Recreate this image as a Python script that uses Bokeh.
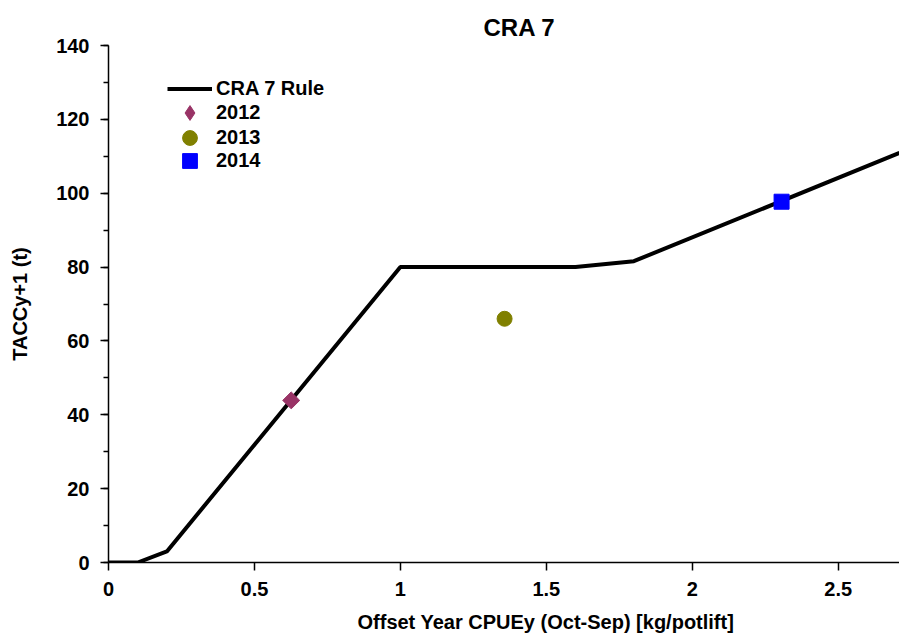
import numpy as np
from bokeh.plotting import figure
from bokeh.models import Range1d, Title, Legend, LegendItem, FixedTicker
from bokeh.embed import file_html
from bokeh.resources import INLINE

# Data
rule_x = [0.0, 0.1, 0.2, 1.0, 1.6, 1.8, 2.71]
rule_y = [0.0, 0.0, 3.0, 80.0, 80.0, 81.6, 110.9]
pt2012_x = [0.626]
pt2012_y = [43.9]
pt2013_x = [1.357]
pt2013_y = [66.0]
pt2014_x = [2.306]
pt2014_y = [97.7]
x_ticks = [0, 0.5, 1, 1.5, 2, 2.5]
y_ticks = [0, 20, 40, 60, 80, 100, 120, 140]
legend_labels = ["CRA 7 Rule", "2012", "2013", "2014"]
x_title = "Offset Year CPUEy (Oct-Sep) [kg/potlift]"
y_title = "TACCy+1 (t)"

FONT = "Liberation Sans"

p = figure(width=899, height=643, output_backend="svg", toolbar_location=None,
           x_range=Range1d(0, 2.71), y_range=Range1d(0, 140),
           min_border_left=108, min_border_right=0, min_border_top=45, min_border_bottom=78)
p.outline_line_color = None
p.grid.grid_line_color = None
p.background_fill_color = "white"
p.border_fill_color = "white"

p.title = Title(text="CRA 7", align="left", offset=375, text_font=FONT,
                text_font_size="24px", text_font_style="bold", text_color="black")

r_line = p.line(rule_x, rule_y, line_color="black", line_width=4)
r12 = p.scatter(pt2012_x, pt2012_y, marker="square", angle=np.pi / 4, size=12,
                fill_color="#993366", line_color="#993366")
r13 = p.scatter(pt2013_x, pt2013_y, marker="circle", size=15,
                fill_color="#808000", line_color="#808000")
r14 = p.scatter(pt2014_x, pt2014_y, marker="square", size=15,
                fill_color="#0000FF", line_color="#0000FF")
# legend-only swatch for 2012 (legend ignores marker angle); NaN point is not drawn
r12_leg = p.scatter([np.nan], [np.nan], marker="diamond", size=12,
                    fill_color="#993366", line_color="#993366")

for ax in (p.xaxis[0], p.yaxis[0]):
    ax.axis_line_color = "black"
    ax.axis_line_width = 1.5
    ax.major_tick_line_color = "black"
    ax.major_tick_line_width = 1.5
    ax.major_tick_out = 8
    ax.major_tick_in = 0
    ax.minor_tick_out = 5
    ax.minor_tick_in = 0
    ax.major_label_text_font = FONT
    ax.major_label_text_font_style = "bold"
    ax.major_label_text_font_size = "20px"
    ax.major_label_text_color = "black"
    ax.axis_label_text_font = FONT
    ax.axis_label_text_font_style = "bold"
    ax.axis_label_text_font_size = "20px"
    ax.axis_label_text_color = "black"

p.xaxis.ticker = FixedTicker(ticks=x_ticks)
p.xaxis.minor_tick_line_color = None
p.xaxis.major_label_standoff = 11

# x-axis title placed below the axis, shifted right as in the reference
p.add_layout(Title(text=x_title, align="left", offset=249, standoff=21,
                   text_font=FONT, text_font_size="20px", text_font_style="bold",
                   text_color="black"), "below")

p.yaxis.ticker = FixedTicker(ticks=y_ticks, minor_ticks=list(range(0, 141, 10)))
p.yaxis.minor_tick_line_color = "black"
p.yaxis.minor_tick_line_width = 1.5
p.yaxis.major_label_standoff = 11
p.yaxis.axis_label = y_title
p.yaxis.axis_label_standoff = 22

# one single-item legend per row so rows sit 24 px apart with full-size markers
row_y = [455, 431, 406, 383]
for lab, rend, yy in zip(legend_labels, [r_line, r12_leg, r13, r14], row_y):
    lg = Legend(items=[LegendItem(label=lab, renderers=[rend])],
                location=(59, yy), glyph_width=45, glyph_height=37, label_standoff=4,
                padding=0, margin=0, border_line_color=None,
                background_fill_alpha=0, label_text_font=FONT, label_text_font_style="bold",
                label_text_font_size="20px", label_text_color="black", label_height=24)
    p.add_layout(lg)

open("out.html", "w").write(file_html(p, INLINE))
